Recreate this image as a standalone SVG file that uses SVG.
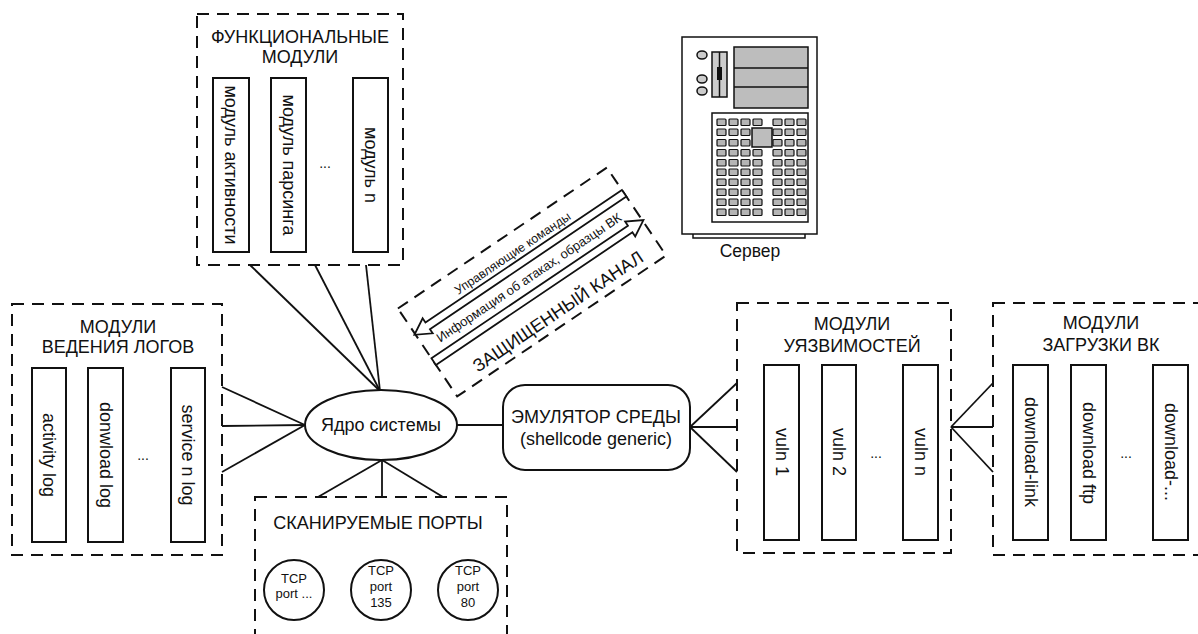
<svg xmlns="http://www.w3.org/2000/svg" width="1198" height="634" viewBox="0 0 1198 634">
  <style>
    text { font-family: "Liberation Sans", Arial, sans-serif; fill: #111; }
    .grp { fill: none; stroke: #111; stroke-width: 2; stroke-dasharray: 12 8; }
    .mod { fill: #fff; stroke: #111; stroke-width: 2; }
    .title { font-size: 18px; text-anchor: middle; }
    .vt { font-size: 18px; text-anchor: middle; dominant-baseline: central; }
    .dots { font-size: 14px; text-anchor: middle; }
    .link { stroke: #111; stroke-width: 1.8; fill: none; }
    .port { fill: #fff; stroke: #111; stroke-width: 2; }
    .pt { font-size: 13px; text-anchor: middle; }
    .srv { stroke: #111; stroke-width: 1.5; }
    .cell { fill: #b5b5b5; stroke: #111; stroke-width: 1.2; }
  </style>
  <defs>
    <g id="cellRow4">
      <rect class="cell" x="0" y="0" width="9" height="6.5" rx="1"/>
      <rect class="cell" x="12" y="0" width="9" height="6.5" rx="1"/>
      <rect class="cell" x="24" y="0" width="9" height="6.5" rx="1"/>
      <rect class="cell" x="36" y="0" width="9" height="6.5" rx="1"/>
    </g>
    <g id="cellRow3">
      <rect class="cell" x="0" y="0" width="9" height="6.5" rx="1"/>
      <rect class="cell" x="12" y="0" width="9" height="6.5" rx="1"/>
      <rect class="cell" x="24" y="0" width="9" height="6.5" rx="1"/>
    </g>
  </defs>

  <rect width="1198" height="634" fill="#fff"/>

  <!-- connectors -->
  <g id="connectors">
    <line class="link" x1="250" y1="265" x2="380" y2="391"/>
    <line class="link" x1="315" y1="265" x2="380" y2="391"/>
    <line class="link" x1="366" y1="265" x2="380" y2="391"/>
    <line class="link" x1="222" y1="387" x2="305" y2="425"/>
    <line class="link" x1="222" y1="426" x2="305" y2="425"/>
    <line class="link" x1="222" y1="472" x2="305" y2="425"/>
    <line class="link" x1="382" y1="460" x2="318" y2="497"/>
    <line class="link" x1="382" y1="460" x2="382" y2="497"/>
    <line class="link" x1="382" y1="460" x2="443" y2="497"/>
    <line class="link" x1="457" y1="425" x2="503" y2="425"/>
    <line class="link" x1="690" y1="427" x2="737" y2="383"/>
    <line class="link" x1="690" y1="427" x2="737" y2="427"/>
    <line class="link" x1="690" y1="427" x2="737" y2="472"/>
    <line class="link" x1="951" y1="427" x2="993" y2="383"/>
    <line class="link" x1="951" y1="427" x2="993" y2="427"/>
    <line class="link" x1="951" y1="427" x2="993" y2="472"/>
  </g>

  <!-- functional modules -->
  <g id="functional-modules">
    <rect class="grp" x="197" y="14" width="206" height="251"/>
    <text class="title" x="300" y="43">ФУНКЦИОНАЛЬНЫЕ</text>
    <text class="title" x="300" y="63">МОДУЛИ</text>
    <rect class="mod" x="213" y="78" width="36" height="174"/>
    <rect class="mod" x="271" y="78" width="35" height="174"/>
    <rect class="mod" x="353" y="78" width="35" height="174"/>
    <text class="vt" transform="translate(231 165) rotate(90)">модуль активности</text>
    <text class="vt" transform="translate(288.5 165) rotate(90)">модуль парсинга</text>
    <text class="vt" transform="translate(370.5 165) rotate(90)">модуль n</text>
    <text class="dots" x="325" y="168">...</text>
  </g>

  <!-- logging modules -->
  <g id="log-modules">
    <rect class="grp" x="12" y="304" width="210" height="251"/>
    <text class="title" x="118" y="333">МОДУЛИ</text>
    <text class="title" x="118" y="353">ВЕДЕНИЯ ЛОГОВ</text>
    <rect class="mod" x="32" y="368" width="34" height="174"/>
    <rect class="mod" x="88" y="368" width="35" height="174"/>
    <rect class="mod" x="171" y="368" width="34" height="174"/>
    <text class="vt" transform="translate(49 455) rotate(90)">activity log</text>
    <text class="vt" transform="translate(105.5 455) rotate(90)">donwload log</text>
    <text class="vt" transform="translate(188 455) rotate(90)">service n log</text>
    <text class="dots" x="143" y="460">...</text>
  </g>

  <!-- system core -->
  <g id="core">
    <ellipse cx="381" cy="425" rx="76" ry="35" fill="#fff" stroke="#111" stroke-width="2"/>
    <text x="381" y="431" font-size="18" text-anchor="middle">Ядро системы</text>
  </g>

  <!-- scanned ports -->
  <g id="ports">
    <rect class="grp" x="255" y="497" width="252" height="170"/>
    <text class="title" x="378" y="529">СКАНИРУЕМЫЕ ПОРТЫ</text>
    <circle class="port" cx="294" cy="590" r="30"/>
    <text class="pt" x="294" y="583">TCP</text>
    <text class="pt" x="294" y="598">port ...</text>
    <circle class="port" cx="381" cy="590" r="30"/>
    <text class="pt" x="381" y="575">TCP</text>
    <text class="pt" x="381" y="591">port</text>
    <text class="pt" x="381" y="607">135</text>
    <circle class="port" cx="468" cy="590" r="30"/>
    <text class="pt" x="468" y="575">TCP</text>
    <text class="pt" x="468" y="591">port</text>
    <text class="pt" x="468" y="607">80</text>
  </g>

  <!-- environment emulator -->
  <g id="emulator">
    <rect x="503" y="385" width="187" height="85" rx="22" fill="#fff" stroke="#111" stroke-width="2"/>
    <text x="596" y="423" font-size="18" text-anchor="middle">ЭМУЛЯТОР СРЕДЫ</text>
    <text x="596" y="445" font-size="18" text-anchor="middle">(shellcode generic)</text>
  </g>

  <!-- vulnerability modules -->
  <g id="vuln-modules">
    <rect class="grp" x="737" y="303" width="214" height="250"/>
    <text class="title" x="852" y="330">МОДУЛИ</text>
    <text class="title" x="852" y="352">УЯЗВИМОСТЕЙ</text>
    <rect class="mod" x="764" y="365" width="35" height="175"/>
    <rect class="mod" x="822" y="365" width="34" height="175"/>
    <rect class="mod" x="903" y="365" width="35" height="175"/>
    <text class="vt" transform="translate(781.5 452) rotate(90)">vuln 1</text>
    <text class="vt" transform="translate(839 452) rotate(90)">vuln 2</text>
    <text class="vt" transform="translate(920.5 452) rotate(90)">vuln n</text>
    <text class="dots" x="876" y="458">...</text>
  </g>

  <!-- download modules -->
  <g id="download-modules">
    <rect class="grp" x="993" y="303" width="230" height="252"/>
    <text class="title" x="1101" y="329">МОДУЛИ</text>
    <text class="title" x="1101" y="351">ЗАГРУЗКИ ВК</text>
    <rect class="mod" x="1013" y="365" width="35" height="175"/>
    <rect class="mod" x="1071" y="365" width="35" height="175"/>
    <rect class="mod" x="1153" y="365" width="35" height="175"/>
    <text class="vt" transform="translate(1030.5 452) rotate(90)">download-link</text>
    <text class="vt" transform="translate(1088.5 453) rotate(90)">download ftp</text>
    <text class="vt" transform="translate(1170.5 452) rotate(90)">download-...</text>
    <text class="dots" x="1126" y="458">...</text>
  </g>

  <!-- secure channel -->
  <g id="secure-channel" transform="translate(532 282) rotate(-34)">
    <rect class="grp" x="-126" y="-53" width="252" height="106"/>
    <text x="0" y="-30.5" font-size="12.5" text-anchor="middle">Управляющие команды</text>
    <polygon points="126,-26 -111,-26 -111,-31 -127,-22 -111,-13 -111,-18 126,-18" fill="#fff" stroke="#111" stroke-width="1.8"/>
    <text x="0" y="-1" font-size="13" text-anchor="middle">Информация об атаках, образцы ВК</text>
    <polygon points="-126,7 111,7 111,2 127,11 111,20 111,15 -126,15" fill="#fff" stroke="#111" stroke-width="1.8"/>
    <text x="5" y="45" font-size="18" text-anchor="middle">ЗАЩИЩЕННЫЙ КАНАЛ</text>
  </g>

  <!-- server -->
  <g id="server">
    <rect class="srv" x="693" y="230" width="112" height="8" fill="#fff"/>
    <rect class="srv" x="682" y="37" width="135" height="197" fill="#fff"/>
    <ellipse class="srv" cx="702" cy="55" rx="5" ry="4" fill="#ccc"/>
    <ellipse class="srv" cx="702" cy="79" rx="5" ry="4" fill="#ccc"/>
    <ellipse class="srv" cx="702" cy="91" rx="5" ry="4" fill="#ccc"/>
    <rect class="srv" x="712" y="52" width="15" height="45" fill="#ccc"/>
    <line class="srv" x1="719.5" y1="52" x2="719.5" y2="97"/>
    <rect x="717" y="67" width="5" height="13" fill="#111"/>
    <rect class="srv" x="734" y="47" width="74" height="61" fill="#bdbdbd"/>
    <line class="srv" x1="734" y1="68" x2="808" y2="68"/>
    <line class="srv" x1="734" y1="87" x2="808" y2="87"/>
    <rect class="srv" x="712" y="113" width="96" height="109" fill="#fff"/>
    <use href="#cellRow4" x="717" y="119"/>
    <use href="#cellRow3" x="717" y="129"/>
    <use href="#cellRow3" x="717" y="139.5"/>
    <use href="#cellRow4" x="717" y="149.5"/>
    <use href="#cellRow4" x="717" y="159.5"/>
    <use href="#cellRow4" x="717" y="169"/>
    <use href="#cellRow4" x="717" y="179"/>
    <use href="#cellRow4" x="717" y="189"/>
    <use href="#cellRow4" x="717" y="199"/>
    <use href="#cellRow4" x="717" y="209"/>
    <use href="#cellRow3" x="773" y="119"/>
    <use href="#cellRow3" x="773" y="129"/>
    <use href="#cellRow3" x="773" y="139.5"/>
    <use href="#cellRow3" x="773" y="149.5"/>
    <use href="#cellRow3" x="773" y="159.5"/>
    <use href="#cellRow3" x="773" y="169"/>
    <use href="#cellRow3" x="773" y="179"/>
    <use href="#cellRow3" x="773" y="189"/>
    <use href="#cellRow3" x="773" y="199"/>
    <use href="#cellRow3" x="773" y="209"/>
    <rect class="srv" x="752" y="128" width="20" height="19" fill="#bdbdbd"/>
    <text x="750" y="257" font-size="17.5" text-anchor="middle">Сервер</text>
  </g>
</svg>
